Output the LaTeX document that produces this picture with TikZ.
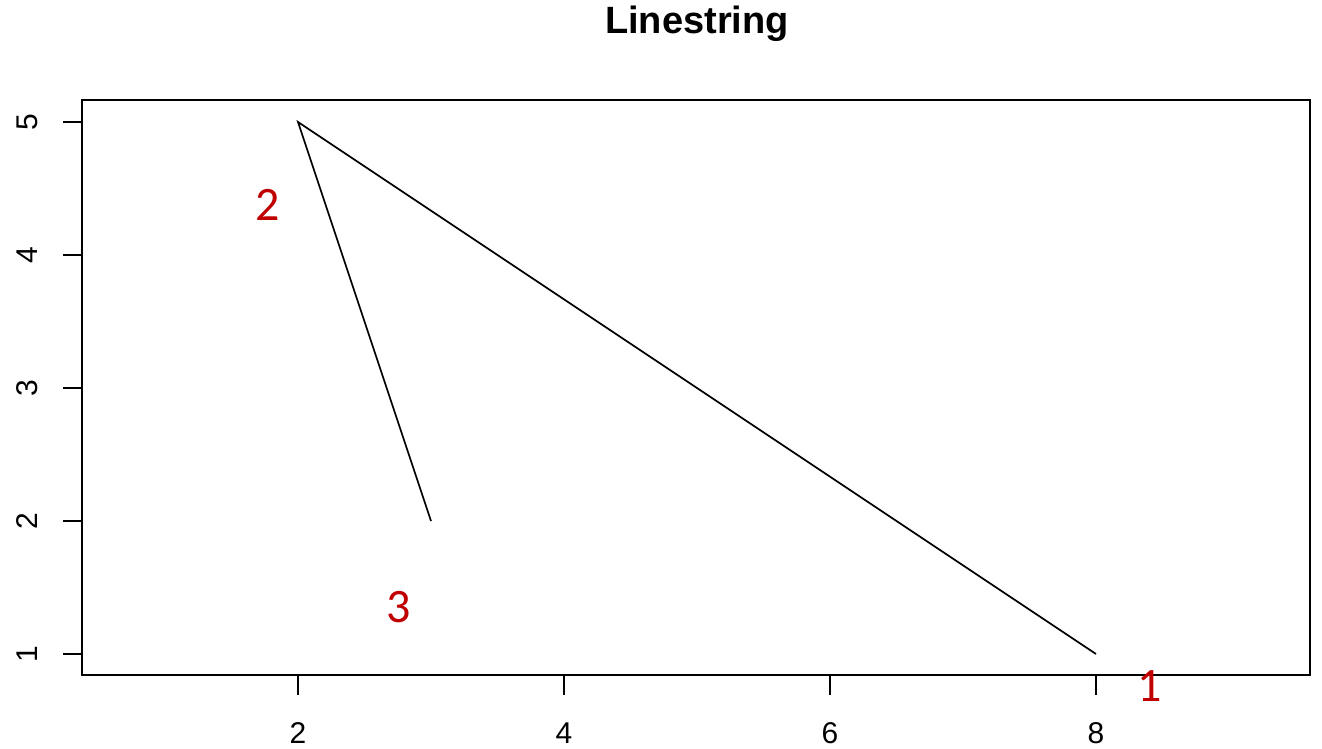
\documentclass[tikz,border=0pt]{standalone}
\usepackage{fontspec}
\setmainfont{Liberation Sans}
\newfontfamily\calib{Carlito}
\definecolor{labred}{HTML}{C00000}
\begin{document}
\begin{tikzpicture}[x=1pt,y=-1pt,
  axlab/.style={font=\fontsize{30}{32}\selectfont, inner sep=0pt},
  ptlab/.style={font=\calib\fontsize{48}{50}\selectfont, text=labred, inner sep=0pt},
  tick/.style={line width=1.7pt},
  frame/.style={line width=1.9pt},
  dataline/.style={line width=1.7pt, line join=miter}]
\useasboundingbox (0,0) rectangle (1322,748);
\node[font=\bfseries\fontsize{38}{40}\selectfont] (title) at (697,24) {Linestring};
\draw[frame] (82,100) rectangle (1310,675);
% x ticks
\foreach \v/\px in {2/298,4/564,6/830,8/1096} {
  \draw[tick] (\px,675) -- (\px,695);
  \node[axlab] (xl\v) at (\px,733) {\v};
}
% y ticks
\foreach \v/\py in {1/654,2/521,3/388,4/255,5/122} {
  \draw[tick] (63,\py) -- (82,\py);
  \node[axlab, rotate=90] (yl\v) at (27,\py) {\v};
}
\coordinate (p1) at (1096,654);
\coordinate (p2) at (298,122);
\coordinate (p3) at (431,521);
\draw[dataline] (p1) -- (p2) -- (p3);
\node[ptlab] (l1) at (1150,686) {1};
\node[ptlab] (l2) at (268,205) {2};
\node[ptlab] (l3) at (399,607) {3};
\end{tikzpicture}
\end{document}
